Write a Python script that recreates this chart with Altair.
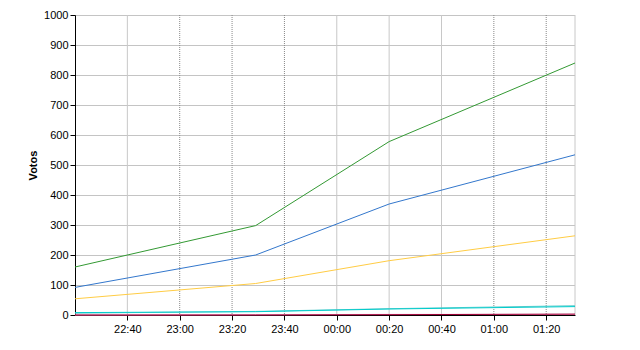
import altair as alt
import pandas as pd

times = ["2020-01-01T22:20:00Z", "2020-01-01T23:29:00Z", "2020-01-02T00:20:00Z", "2020-01-02T01:31:00Z"]
series_names = ["A", "B", "C", "D", "E", "F", "G"]
series_colors = ["#339933", "#3377CC", "#FFCC44", "#66CCCC", "#00CCCC", "#FF99CC", "#990033"]
green = [160, 298, 578, 840]
blue = [92, 200, 370, 534]
yellow = [54, 105, 181, 264]
teal = [6, 12, 21, 31]
cyan = [8, 11, 20, 28]
pink = [0, 1, 2, 2]
darkred = [0, 0, 1, 3]
values = [green, blue, yellow, teal, cyan, pink, darkred]

tick_times = ["2020-01-01T22:40:00Z", "2020-01-01T23:00:00Z", "2020-01-01T23:20:00Z",
              "2020-01-01T23:40:00Z", "2020-01-02T00:00:00Z", "2020-01-02T00:20:00Z",
              "2020-01-02T00:40:00Z", "2020-01-02T01:00:00Z", "2020-01-02T01:20:00Z"]
solid_grid = ["2020-01-01T22:40:00Z", "2020-01-02T00:00:00Z", "2020-01-02T00:20:00Z",
              "2020-01-02T00:40:00Z", "2020-01-02T01:31:00Z"]
dotted_grid = ["2020-01-01T23:00:00Z", "2020-01-01T23:20:00Z", "2020-01-01T23:40:00Z",
               "2020-01-02T01:00:00Z", "2020-01-02T01:20:00Z"]

rows = []
for name, vals in zip(series_names, values):
    for t, v in zip(times, vals):
        rows.append({"serie": name, "t": t, "votos": v})
df = pd.DataFrame(rows)

x_domain = [pd.Timestamp(times[0]).value // 10**6, pd.Timestamp(times[-1]).value // 10**6]
tick_ms = [pd.Timestamp(t).value // 10**6 for t in tick_times]

xscale = alt.Scale(type="utc", domain=x_domain)

solid_df = pd.DataFrame({"t": solid_grid})
dotted_df = pd.DataFrame({"t": dotted_grid})

solid_rules = alt.Chart(solid_df).mark_rule(color="#c8c8c8", strokeWidth=1).encode(
    x=alt.X("t:T", scale=xscale)
)
dotted_rules = alt.Chart(dotted_df).mark_rule(color="#888888", strokeWidth=1, strokeDash=[1, 1]).encode(
    x=alt.X("t:T", scale=xscale)
)

lines = alt.Chart(df).mark_line(strokeWidth=1).encode(
    x=alt.X("t:T", scale=xscale,
            axis=alt.Axis(values=tick_ms, format="%H:%M", grid=False, title=None,
                          labelFont="Liberation Sans", labelFontSize=11, labelColor="black",
                          domainColor="black", tickColor="black", tickSize=5, labelPadding=3,
                          labelFlush=False)),
    y=alt.Y("votos:Q", scale=alt.Scale(domain=[0, 1000], nice=False),
            axis=alt.Axis(values=list(range(0, 1001, 100)), format="d", title="Votos", grid=True,
                          gridColor="#888888", gridDash=[1, 1], gridOpacity=1,
                          labelFont="Liberation Sans", labelFontSize=11, labelColor="black",
                          domainColor="black", tickColor="black", tickSize=5, labelPadding=2,
                          titleFont="Liberation Sans", titleFontSize=11, titleFontWeight="bold",
                          titleColor="black", titleX=-42, titleY=150, titleBaseline="middle",
                          titleAngle=270)),
    color=alt.Color("serie:N", scale=alt.Scale(domain=series_names, range=series_colors), legend=None),
    detail="serie:N",
)

chart = alt.layer(solid_rules, dotted_rules, lines).properties(
    width=500, height=300,
    autosize=alt.AutoSizeParams(type="none"),
    padding={"left": 75, "top": 15, "right": 65, "bottom": 35},
    background="white",
).configure_view(stroke=None)

chart.save("out.html", embed_options={"renderer": "svg", "actions": False})
